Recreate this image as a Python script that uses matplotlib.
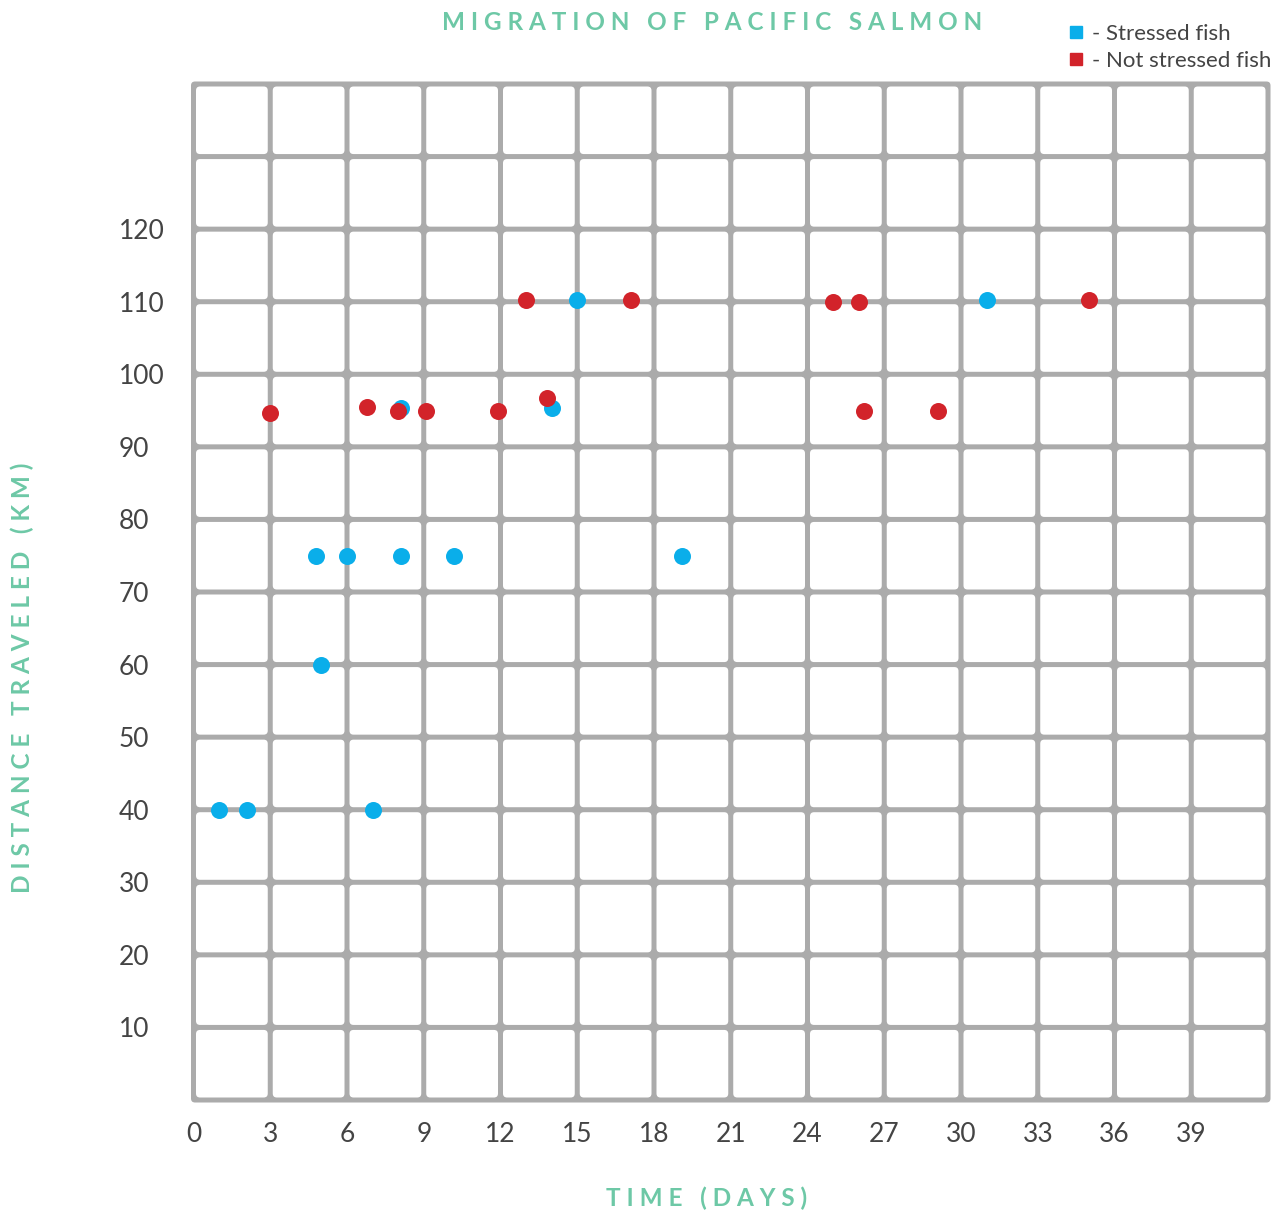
"""Migration of Pacific salmon - scatter on a rounded cell grid"""
import matplotlib
matplotlib.use("Agg")
import matplotlib.pyplot as plt
from matplotlib.patches import FancyBboxPatch
from matplotlib.lines import Line2D

# stressed fish (days, km)
stressed_days = [1, 2.1, 7, 4.8, 6, 8.1, 10.2, 19.1, 5, 8.1, 14, 15, 31]
stressed_km = [40, 40, 40, 75, 75, 75, 75, 75, 60, 95.3, 95.3, 110.2, 110.2]

# not stressed fish (days, km)
calm_days = [3, 6.8, 8, 9.1, 11.9, 13, 13.8, 17.1, 25, 26, 26.2, 29.1, 35]
calm_km = [94.7, 95.5, 95, 95, 95, 110.2, 96.7, 110.2, 110, 110, 95, 95, 110.2]

x_ticks = list(range(0, 40, 3))
y_ticks = list(range(10, 130, 10))

X_MAX = 42
Y_MAX = 140
CELL_X = 3
CELL_Y = 10

GRAY = "#ababab"
BLUE = "#0aaeea"
RED = "#d2232a"
TEAL = "#6dc8a6"
TEXT = "#444444"

W, H = 1276, 1213
fig = plt.figure(figsize=(W / 100, H / 100), dpi=100)
left, right, top, bottom = 193.5, 1268, 84, 1100
ax = fig.add_axes([left / W, 1 - bottom / H, (right - left) / W, (bottom - top) / H])
ax.set_xlim(0, X_MAX)
ax.set_ylim(0, Y_MAX)

# pixel size of one data unit, used for line width and corner radius
sx = (right - left) / X_MAX
sy = (bottom - top) / Y_MAX
half = 2.5
rad = 4.0
aspect = sx / sy

# gray frame behind everything, cells in white on top -> thick grid lines
ax.add_patch(FancyBboxPatch((-half / sx, -half / sy), X_MAX + 2 * half / sx, Y_MAX + 2 * half / sy,
                            boxstyle="round,pad=0,rounding_size=%f" % (rad / sx),
                            mutation_aspect=aspect, fc=GRAY, ec="none", clip_on=False, zorder=0))
for i in range(X_MAX // CELL_X):
    for j in range(Y_MAX // CELL_Y):
        x0 = i * CELL_X + half / sx
        y0 = j * CELL_Y + half / sy
        ax.add_patch(FancyBboxPatch((x0, y0), CELL_X - 2 * half / sx, CELL_Y - 2 * half / sy,
                                    boxstyle="round,pad=0,rounding_size=%f" % (rad / sx),
                                    mutation_aspect=aspect, fc="white", ec="none", zorder=1))

ax.scatter(stressed_days, stressed_km, s=150, color=BLUE, zorder=3, linewidths=0)
ax.scatter(calm_days, calm_km, s=150, color=RED, zorder=4, linewidths=0)

for sp in ax.spines.values():
    sp.set_visible(False)
ax.set_xticks(x_ticks)
ax.set_xticklabels([str(v) for v in x_ticks])
ax.set_yticks(y_ticks)
ax.set_yticklabels([str(v) for v in y_ticks])
ax.tick_params(axis="both", length=0, labelsize=19, labelcolor=TEXT)
ax.tick_params(axis="x", pad=16)
ax.tick_params(axis="y", pad=54)
for lab in ax.get_yticklabels():
    lab.set_horizontalalignment("left")
for lab in ax.get_xticklabels() + ax.get_yticklabels():
    lab.set_fontfamily("Lato")

def spaced(s):
    return "   ".join(" ".join(w) for w in s.split(" "))

fig.text(712 / W, 1 - 22 / H, spaced("MIGRATION OF PACIFIC SALMON"), ha="center", va="center",
         fontsize=17.5, color=TEAL, fontweight="bold", family="Lato")
fig.text(707 / W, 1 - 1198 / H, spaced("TIME (DAYS)"), ha="center", va="center",
         fontsize=17.5, color=TEAL, fontweight="bold", family="Lato")
fig.text(22 / W, 1 - 678 / H, spaced("DISTANCE TRAVELED (KM)"), ha="center", va="center",
         rotation=90, fontsize=17.5, color=TEAL, fontweight="bold", family="Lato")

handles = [Line2D([], [], marker="s", ls="none", color=BLUE, markersize=8),
           Line2D([], [], marker="s", ls="none", color=RED, markersize=8)]
fig.legend(handles, ["- Stressed fish", "- Not stressed fish"], loc="upper left",
           bbox_to_anchor=(1069 / W, 1 - 24 / H), frameon=False, handlelength=0.6,
           handletextpad=0.45, labelspacing=0.3, borderpad=0, borderaxespad=0,
           prop={"family": "Lato", "size": 16}, labelcolor=TEXT)

fig.savefig("out.png", dpi=100)
